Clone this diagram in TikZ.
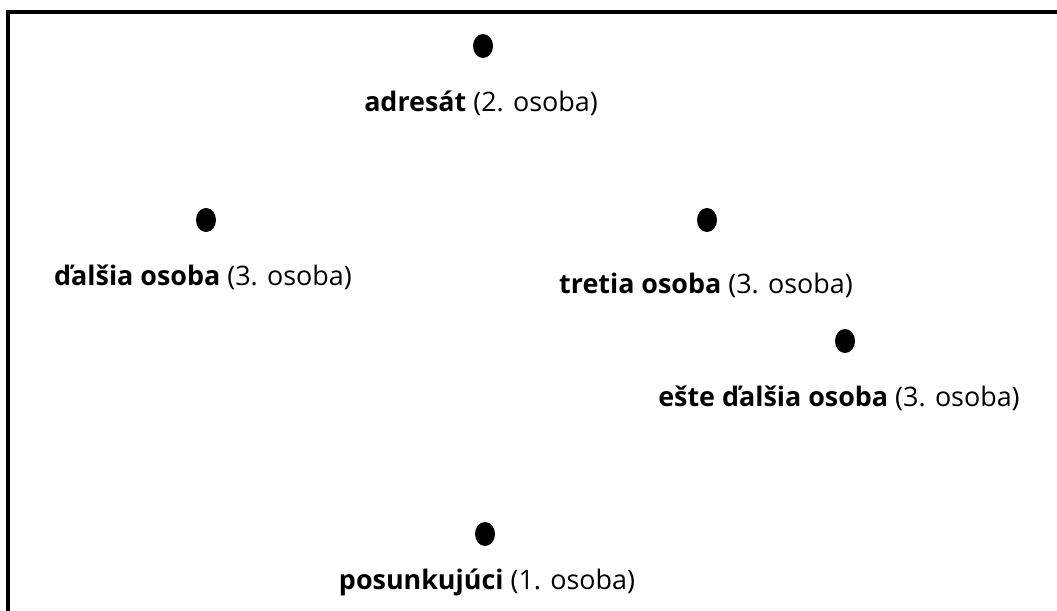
\documentclass[tikz,border=0pt]{standalone}
\usepackage{fontspec}
\setmainfont{Open Sans}
\usetikzlibrary{shapes.geometric,positioning}

\begin{document}
\begin{tikzpicture}[
    x=0.02cm, y=-0.02cm,
    dot/.style={ellipse, fill=black, minimum width=0.4cm, minimum height=0.48cm, inner sep=0pt},
    role/.style={font=\fontsize{15.3}{18}\selectfont, inner sep=0pt}
]
\useasboundingbox (0,0) rectangle (1057,611);

% frame (right and bottom edges lie outside the picture)
\draw[line width=1.9pt] (8,611) -- (8,12) -- (1057,12);

% persons
\node[dot] (adresat) at (483,46) {};
\node[role] (adresatL) at (481,103) {\textbf{adresát} (2. osoba)};

\node[dot] (dalsia) at (206,220) {};
\node[role] (dalsiaL) at (203,277) {\textbf{ďalšia osoba} (3. osoba)};

\node[dot] (tretia) at (707,220) {};
\node[role] (tretiaL) at (706,285) {\textbf{tretia osoba} (3. osoba)};

\node[dot] (este) at (845,341) {};
\node[role] (esteL) at (839,398) {\textbf{ešte ďalšia osoba} (3. osoba)};

\node[dot] (posunk) at (485,534) {};
\node[role] (posunkL) at (487,582) {\textbf{posunkujúci} (1. osoba)};

\end{tikzpicture}
\end{document}
